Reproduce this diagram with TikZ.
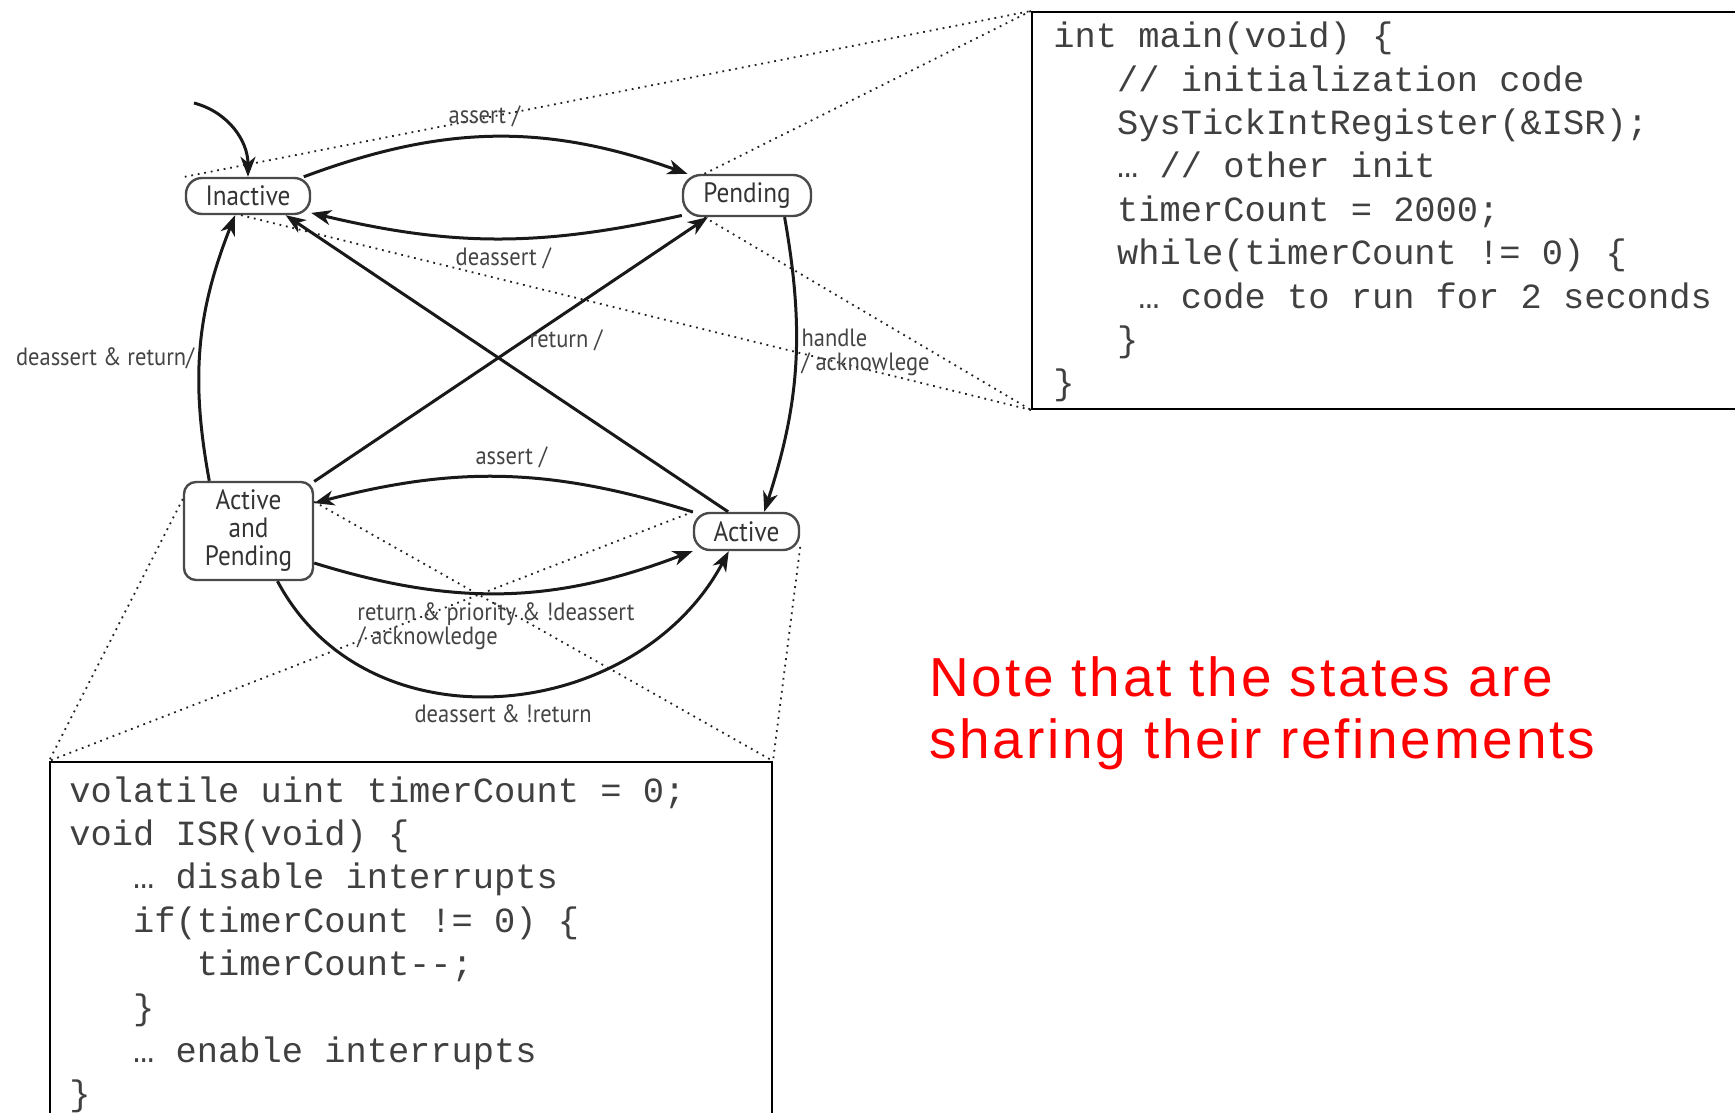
\documentclass[tikz,border=0pt]{standalone}
\usepackage{fontspec}
\usetikzlibrary{arrows.meta}
\newfontfamily\codefont{Liberation Mono}
\newfontfamily\statefont[FakeStretch=0.9]{PT Sans}
\newfontfamily\notefont[LetterSpace=5]{Liberation Sans}
\definecolor{notered}{HTML}{FF0000}
\definecolor{stateborder}{HTML}{4A4A4A}
\definecolor{labelgray}{HTML}{444444}
\definecolor{dotgray}{HTML}{222222}
\newcommand\ind[1]{\hspace*{#1em}}
\tikzset{
  stbox/.style={
    rectangle, rounded corners=8pt, draw=stateborder, fill=white,
    line width=1.2pt, inner sep=0pt, align=center,
    font=\statefont\fontsize{14}{14}\selectfont, text=black!80,
  },
  trans/.style={-{Stealth[length=10pt,width=7.5pt,inset=3pt]}, line width=1.5pt, black!90},
  lbl/.style={font=\statefont\fontsize{12.5}{12}\selectfont, text=labelgray, inner sep=0pt, align=left},
  refine/.style={dotgray, line width=0.9pt, dash pattern=on 0.9pt off 2.4pt},
  codebox/.style={rectangle, draw=black, line width=1pt, inner sep=0pt, fill=white},
  codetxt/.style={font=\codefont\fontsize{17.7}{21.7}\selectfont, align=left, inner sep=0pt, text=black!75},
  note/.style={font=\notefont\fontsize{27.5}{31}\selectfont, text=notered, align=left, inner sep=0pt},
}

\begin{document}
\begin{tikzpicture}[x=0.5pt, y=0.5pt]
\clip (0,0) rectangle (1735,1113);
\fill[white] (0,0) rectangle (1735,1113);

% ── code boxes (the shared refinements) ───────────────────────────────
\node[codebox, anchor=north west, minimum width=364.5pt, minimum height=198.5pt] (mainbox) at (1031,1102) {};
\node[codebox, anchor=north west, minimum width=361pt, minimum height=186pt] (isrbox) at (49,352) {};

% base of a multi-line node = baseline of its last line
\node[codetxt, anchor=base west] (maincode) at (1053,718) {int main(void) \{\\
\ind{1.8}// initialization code\\
\ind{1.8}SysTickIntRegister(\&ISR);\\
\ind{1.8}… // other init\\
\ind{1.8}timerCount = 2000;\\
\ind{1.8}while(timerCount != 0) \{\\
\ind{2.4}… code to run for 2 seconds\\
\ind{1.8}\}\\
\}};

\node[codetxt, anchor=base west] (isrcode) at (69,7) {volatile uint timerCount = 0;\\
void ISR(void) \{\\
\ind{1.8}… disable interrupts\\
\ind{1.8}if(timerCount != 0) \{\\
\ind{3.6}timerCount-\kern0pt-;\\
\ind{1.8}\}\\
\ind{1.8}… enable interrupts\\
\}};

% ── states ────────────────────────────────────────────────────────────
\node[stbox, minimum width=62pt, minimum height=18pt] (ina) at (248,917) {Inactive};
\node[stbox, minimum width=64pt, minimum height=20.5pt, rounded corners=9pt] (pen) at (747,917.5) {Pending};
\node[stbox, minimum width=64.5pt, minimum height=49pt, rounded corners=6pt] (ap) at (248.5,582) {Active\\and\\Pending};
\node[stbox, minimum width=52.5pt, minimum height=18.5pt] (act) at (746.5,581.5) {Active};

% ── dotted links to refinements ───────────────────────────────────────
\draw[refine] (ina.north west) -- (mainbox.north west);
\draw[refine] (pen.153) -- (mainbox.north west);
\draw[refine] (ina.250) -- (mainbox.south west);
\draw[refine] (pen.207) -- (mainbox.south west);
\draw[refine] (ap.154) -- (isrbox.north west);
\draw[refine] (act.north west) -- (isrbox.north west);
\draw[refine] (ap.24) -- (isrbox.north east);
\draw[refine] (act.-16) -- (isrbox.north east);

% ── transitions ───────────────────────────────────────────────────────
\coordinate (init) at (194,1010);
\draw[trans] (init) to[out=-15,in=90] (ina.north);

\draw[trans] (ina.19) to[bend left=20] node[lbl, above=4pt, pos=0.47] (l1) {assert /} (pen.160);
\draw[trans] (pen.197) to[bend left=13] node[lbl, below=4pt, pos=0.48] (l2) {deassert /} (ina.-15);
\draw[trans] (ap.128) to[bend left=16] node[lbl, left=2pt, pos=0.45] (l3) {deassert \& return/} (ina.236);
\draw[trans] (pen.-30) to[bend left=14] node[lbl, right=2pt, pos=0.45] (l4) {handle\\/ acknowlege} (act.48);

\draw[trans] (act.133) -- (ina.-27);
\draw[trans] (ap.37) -- (pen.209);
\node[lbl] (l5) at (566,773) {return /};

\draw[trans] (act.160) to[bend right=16] node[lbl, above=4pt, pos=0.48] (l6) {assert /} (ap.23);
\draw[trans] (ap.-26) to[bend right=19] (act.200);
\node[lbl, anchor=north west] (l7) at (357,511) {return \& priority \& !deassert\\/ acknowledge};
\draw[trans] (ap.-60) to[out=-62,in=-118,looseness=1.1] node[lbl, below=4pt] (l8) {deassert \& !return} (act.228);

% ── remark ────────────────────────────────────────────────────────────
\node[note, anchor=base west] (remark) at (929,354) {Note that the states are\\sharing their refinements};

\end{tikzpicture}
\end{document}
